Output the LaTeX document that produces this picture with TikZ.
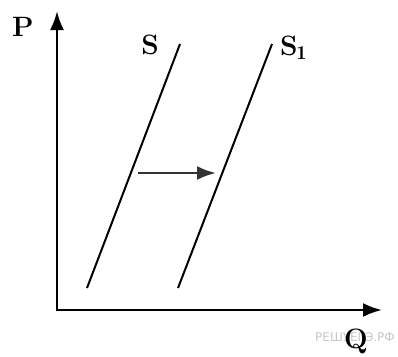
\documentclass[tikz,border=0pt]{standalone}
\usepackage{fontspec}
\newfontfamily\wmfont{DejaVu Sans}
\usetikzlibrary{arrows.meta}
\begin{document}
\begin{tikzpicture}[x=1pt, y=-1pt, >={Latex[length=19pt,width=14pt]},
		lbl/.style={font=\fontsize{28}{30}\selectfont\bfseries, inner sep=0pt},
		curve/.style={line width=2pt}]
	\useasboundingbox (0,0) rectangle (398,356);
	% axes
	\coordinate (O) at (57,310);
	\coordinate (ytop) at (57,11);
	\coordinate (xend) at (382,310);
	\node[font=\wmfont\fontsize{12}{12}\selectfont, text=black!22, inner sep=0pt] (mark) at (355,337) {РЕШУЕГЭ.РФ};
	\draw[line width=2.6pt, ->] (O) -- (ytop);
	\draw[line width=2.6pt, ->] ([xshift=-1.3pt]O) -- (xend);
	\node[lbl] (P) at (23,27) {P};
	\node[lbl] (Q) at (356,341) {Q};
	% supply curves
	\coordinate (s0) at (87,288);
	\coordinate (s1) at (180,44);
	\coordinate (t0) at (178,288);
	\coordinate (t1) at (272,44);
	\draw[curve] (s0) -- (s1);
	\draw[curve] (t0) -- (t1);
	\node[lbl] (S) at (150,45) {S};
	\node[lbl, anchor=west] (S1) at (280,48) {S\kern-1pt$_{\mathbf 1}$};
	% shift
	\coordinate (a0) at (138,173);
	\coordinate (a1) at (216,173);
	\draw[line width=2.6pt, black!80, ->] (a0) -- (a1);
\end{tikzpicture}
\end{document}
